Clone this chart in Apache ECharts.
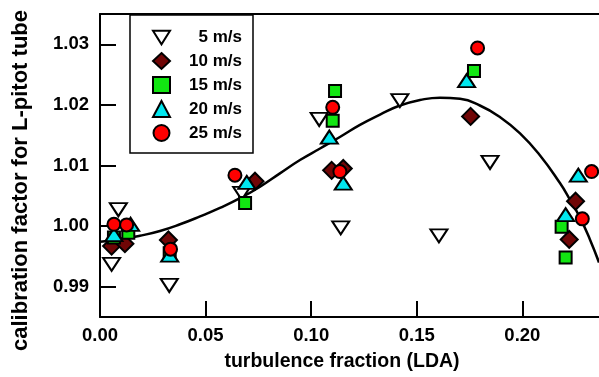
<!DOCTYPE html>
<html>
<head>
    <meta charset="utf-8">
    <title>calibration factor</title>
    <script src="https://cdn.jsdelivr.net/npm/echarts@6/dist/echarts.min.js"></script>
    <style>
        html, body { margin: 0; padding: 0; background: #fff; }
        #main { width: 599px; height: 377px; }
    </style>
</head>
<body>
    <div id="main"></div>
    <script type="text/javascript">
        // measured points [turbulence fraction, calibration factor]
        var s5 = [[0.0087, 1.0027], [0.0055, 0.9937], [0.0328, 0.9902], [0.0671, 1.0054], [0.1038, 1.0176],
            [0.1140, 0.9997], [0.1420, 1.0207], [0.1605, 0.9984], [0.1847, 1.0105]];
        var s10 = [[0.0055, 0.9967], [0.0118, 0.9971], [0.0324, 0.9977], [0.0734, 1.0074], [0.1097, 1.0092],
            [0.1152, 1.0095], [0.1755, 1.0181], [0.2252, 1.0041], [0.2222, 0.9978]];
        var s15 = [[0.0066, 0.9981], [0.0134, 0.9989], [0.0330, 0.9955], [0.0687, 1.0038], [0.1102, 1.0174],
            [0.1113, 1.0223], [0.1771, 1.0256], [0.2186, 0.9999], [0.2205, 0.9948]];
        var s20 = [[0.0066, 0.9986], [0.0145, 1.0003], [0.0330, 0.9952], [0.0695, 1.0072], [0.1086, 1.0147],
            [0.1152, 1.0071], [0.1736, 1.0240], [0.2205, 1.0019], [0.2265, 1.0084]];
        var s25 = [[0.0066, 1.0003], [0.0126, 1.0002], [0.0334, 0.9962], [0.0639, 1.0084], [0.1102, 1.0196],
            [0.1136, 1.0090], [0.1788, 1.0294], [0.2284, 1.0012], [0.2328, 1.0090]];

        // fitted curve
        var curveX = [0, 0.0095, 0.0189, 0.0284, 0.0379, 0.0474, 0.0568, 0.0663, 0.0758, 0.0852, 0.0947,
            0.1042, 0.1136, 0.1231, 0.1326, 0.1420, 0.1515, 0.1610, 0.1705, 0.1799, 0.1894, 0.1989,
            0.2083, 0.2178, 0.2225, 0.2273, 0.2320, 0.2363];
        var curveY = [0.9974, 0.9978, 0.9984, 0.9992, 1.0003, 1.0016, 1.0030, 1.0046, 1.0065, 1.0087, 1.0109,
            1.0128, 1.0147, 1.0167, 1.0184, 1.0199, 1.0208, 1.0212, 1.0210, 1.0199, 1.0180, 1.0153,
            1.0117, 1.0071, 1.0044, 1.0014, 0.9978, 0.9940];

        var names = ['5 m/s', '10 m/s', '15 m/s', '20 m/s', '25 m/s'];
        var xTicks = [0, 0.05, 0.10, 0.15, 0.20];
        var yTicks = [0.99, 1.00, 1.01, 1.02, 1.03];

        var font = "'Liberation Sans', Arial, sans-serif";
        var curve = curveX.map(function (x, i) { return [x, curveY[i]]; });

        function pts(name, data, symbol, size, color) {
            return {
                name: name,
                type: 'scatter',
                data: data,
                symbol: symbol,
                symbolSize: size,
                z: 3,
                itemStyle: { color: color, borderColor: '#000', borderWidth: 2, opacity: 1 }
            };
        }

        var myChart = echarts.init(document.getElementById('main'));
        var option = {
            backgroundColor: '#fff',
            animation: false,
            grid: { left: 100, right: 0, top: 14, bottom: 56 },
            legend: {
                data: names,
                orient: 'vertical',
                left: 130,
                top: 15,
                padding: [14, 11, 11, 22],
                itemGap: 6,
                itemWidth: 17,
                itemHeight: 16,
                borderColor: '#000',
                borderWidth: 1.5,
                backgroundColor: '#fff',
                formatter: function (n) { return '{t|' + n + '}'; },
                textStyle: {
                    color: '#000',
                    rich: { t: { width: 67, align: 'right', fontSize: 17, fontWeight: 'bold', fontFamily: font, lineHeight: 16, color: '#000' } }
                }
            },
            xAxis: [{
                type: 'value',
                min: 0,
                max: 0.2363,
                name: 'turbulence fraction (LDA)',
                nameLocation: 'middle',
                nameGap: 35,
                nameTextStyle: { fontSize: 19.5, fontWeight: 'bold', fontFamily: font, color: '#000', padding: [0, 15, 0, 0] },
                splitLine: { show: false },
                axisLine: { lineStyle: { color: '#000', width: 2 } },
                axisTick: { inside: true, length: 16, lineStyle: { color: '#000', width: 2 }, customValues: xTicks },
                axisLabel: {
                    customValues: xTicks,
                    margin: 9,
                    fontSize: 18.5, fontWeight: 'bold', fontFamily: font, color: '#000',
                    formatter: function (v) { return v.toFixed(2); }
                }
            }, {
                type: 'value',
                position: 'top',
                min: 0,
                max: 0.2363,
                splitLine: { show: false },
                axisLine: { show: true, lineStyle: { color: '#000', width: 2 } },
                axisTick: { show: false },
                axisLabel: { show: false }
            }],
            yAxis: {
                type: 'value',
                min: 0.985,
                max: 1.035,
                name: 'calibration factor for L-pitot tube',
                nameLocation: 'middle',
                nameGap: 68,
                nameTextStyle: { fontSize: 22, fontWeight: 'bold', fontFamily: font, color: '#000', padding: [0, 30, 0, 0] },
                splitLine: { show: false },
                axisLine: { lineStyle: { color: '#000', width: 2 } },
                axisTick: { inside: true, length: 16, lineStyle: { color: '#000', width: 2 }, customValues: yTicks },
                axisLabel: {
                    customValues: yTicks,
                    margin: 11,
                    fontSize: 18.5, fontWeight: 'bold', fontFamily: font, color: '#000',
                    formatter: function (v) { return v.toFixed(2); }
                }
            },
            series: [
                {
                    name: 'fit',
                    type: 'line',
                    data: curve,
                    smooth: true,
                    showSymbol: false,
                    z: 2,
                    lineStyle: { color: '#000', width: 2.5 }
                },
                pts(names[0], s5, 'path://M0,0L20,0L10,16Z', [17, 13], '#fff'),
                pts(names[1], s10, 'diamond', [17, 17], '#700606'),
                pts(names[2], s15, 'rect', [12, 12], '#12e612'),
                pts(names[3], s20, 'triangle', [17, 13], '#00e8f0'),
                pts(names[4], s25, 'circle', 13, '#ff0000')
            ]
        };
        myChart.setOption(option);
    </script>
</body>
</html>
